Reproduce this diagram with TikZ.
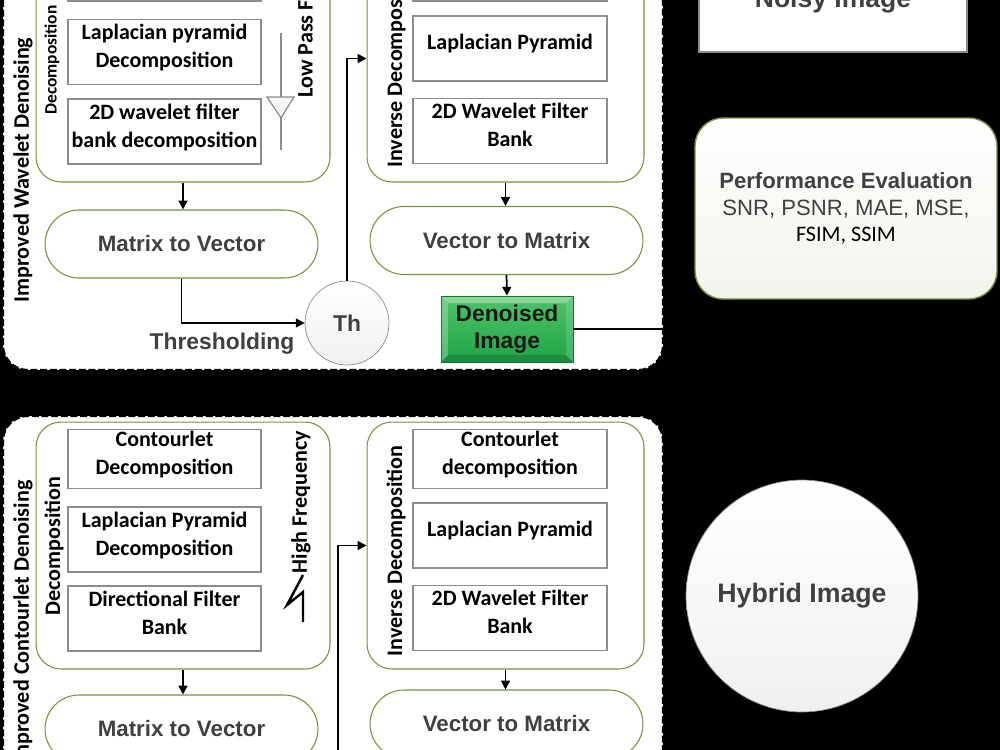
\documentclass[tikz,border=0pt]{standalone}
\usepackage{fontspec}
\setmainfont{Carlito}
\newfontfamily\arialfont{Liberation Sans}
\usetikzlibrary{positioning,arrows.meta}
\definecolor{vertcadre}{RGB}{119,147,60}
\definecolor{grisbord}{RGB}{140,140,140}
\definecolor{gristexte}{RGB}{64,64,64}
\definecolor{vertimage}{RGB}{30,165,70}
\definecolor{vertclair}{RGB}{80,195,105}
\definecolor{vertfonce}{RGB}{20,120,50}
\tikzstyle{panneau}=[draw=black, fill=white, dash pattern=on 4pt off 1.5pt, line width=1.1pt, rounded corners=0.5cm]
\tikzstyle{groupe}=[draw=vertcadre, fill=white, line width=0.6pt, rounded corners=0.5cm]
\tikzstyle{boite}=[draw=grisbord, fill=white, line width=0.8pt, minimum width=3.86cm, minimum height=1.3cm, align=center, inner sep=1pt, text depth=7pt, font=\bfseries\fontsize{12.5}{15.9}\selectfont]
\tikzstyle{capsule}=[draw=vertcadre, fill=white, line width=0.6pt, rounded corners=0.68cm, minimum width=5.46cm, minimum height=1.36cm, text=gristexte, font=\arialfont\bfseries\fontsize{12.7}{15}\selectfont]
\tikzstyle{titre}=[rotate=90, inner sep=0pt, font=\bfseries\fontsize{12.6}{15}\selectfont]
\tikzstyle{rond}=[circle, draw=grisbord, top color=white, bottom color=gray!12, text=gristexte, font=\arialfont\bfseries\fontsize{13}{15}\selectfont]
\tikzstyle{fleche}=[-{Triangle[length=5pt,width=5pt]}, line width=1pt]
\tikzstyle{biseau}=[draw=vertfonce, top color=vertclair, bottom color=vertimage, minimum width=2.64cm, minimum height=1.32cm, align=center, text=black!90, font=\arialfont\bfseries\fontsize{13}{15.3}\selectfont,
  path picture={
    \fill[white, opacity=.35] (path picture bounding box.north west) -- (path picture bounding box.north east) -- ([xshift=-4pt,yshift=-4pt]path picture bounding box.north east) -- ([xshift=4pt,yshift=-4pt]path picture bounding box.north west) -- cycle;
    \fill[white, opacity=.25] (path picture bounding box.north west) -- (path picture bounding box.south west) -- ([xshift=4pt,yshift=4pt]path picture bounding box.south west) -- ([xshift=4pt,yshift=-4pt]path picture bounding box.north west) -- cycle;
    \fill[black, opacity=.15] (path picture bounding box.south west) -- (path picture bounding box.south east) -- ([xshift=-4pt,yshift=4pt]path picture bounding box.south east) -- ([xshift=4pt,yshift=4pt]path picture bounding box.south west) -- cycle;
    \fill[white, opacity=.15] (path picture bounding box.north east) -- (path picture bounding box.south east) -- ([xshift=-4pt,yshift=4pt]path picture bounding box.south east) -- ([xshift=-4pt,yshift=-4pt]path picture bounding box.north east) -- cycle;
  }]

\begin{document}
\begin{tikzpicture}[x=0.02cm,y=-0.02cm]
\useasboundingbox (0,0) rectangle (1000,750);
\fill[black] (0,0) rectangle (1000,750);
\clip (0,0) rectangle (1000,750);

% the two dashed panels
\node[panneau, minimum width=13.2cm, minimum height=9.8cm] (panA) at (333,125) {};
\node[panneau, minimum width=13.2cm, minimum height=9.68cm] (panB) at (333,658) {};

\node[groupe, minimum width=5.88cm, minimum height=4.94cm] (decA) at (183,58.5) {};
\node[groupe, minimum width=5.54cm, minimum height=4.94cm] (invA) at (505.5,58.5) {};
\node[groupe, minimum width=5.88cm, minimum height=4.94cm] (decB) at (183,545.5) {};
\node[groupe, minimum width=5.54cm, minimum height=4.94cm] (invB) at (505.5,545.5) {};

% wavelet part
\node[boite, minimum height=1.16cm] (decA1) at (164.5,-28) {};
\node[boite] (decA2) at (164.5,52) {Laplacian pyramid\\Decomposition};
\node[boite] (decA3) at (164.5,131.5) {2D wavelet filter\\bank decomposition};
\node[boite, minimum width=3.88cm, minimum height=1.16cm] (invA1) at (510,-28) {};
\node[boite, minimum width=3.88cm, text depth=8pt] (invA2) at (510,48.5) {Laplacian Pyramid};
\node[boite, minimum width=3.88cm] (invA3) at (510,131) {2D Wavelet Filter\\Bank};

\node[titre] (tA) at (23,170) {Improved Wavelet Denoising};
\node[titre, font=\bfseries\fontsize{9.9}{12}\selectfont] (sA) at (52,60) {Decomposition};
\node[titre, anchor=west] (iA) at (396,168) {Inverse Decomposition};
\node[titre, anchor=west] (lp) at (305,98) {Low Pass Filter};

\draw[grisbord, line width=0.7pt] (281,33) -- (281,150);
\draw[grisbord, fill=gray!8, line width=0.7pt] (267,97) -- (294,97) -- (281,118) -- cycle;

\node[capsule] (mvA) at (181.5,244) {Matrix to Vector};
\node[capsule] (vmA) at (506.5,240.5) {Vector to Matrix};
\node[rond, minimum size=1.68cm] (th) at (347,323) {Th};
\node[biseau] (den) at (507,329) {Denoised\\Image};
\node[text=gristexte, font=\arialfont\bfseries\fontsize{13}{15}\selectfont] (seuil) at (222,344) {Thresholding};

\draw[fleche] (decA.south) -- (decA.south |- mvA.north);
\draw[fleche] (mvA.south) |- (th.west);
\draw[fleche] (th.north) |- (invA.west);
\draw[fleche] (invA.south) -- (invA.south |- vmA.north);
\draw[fleche] (vmA.south) -- (den.north);
\coordinate (sortie) at (690,329);
\draw[line width=1pt] (den.east) -- (sortie);

% contourlet part
\coordinate (arrivee) at (182,380);
\draw[fleche] (arrivee) -- (arrivee |- panB.north);

\node[boite, minimum height=1.16cm] (decB1) at (164.5,459) {Contourlet\\Decomposition};
\node[boite] (decB2) at (164.5,539.5) {Laplacian Pyramid\\Decomposition};
\node[boite] (decB3) at (164.5,618.5) {Directional Filter\\Bank};
\node[boite, minimum width=3.88cm, minimum height=1.16cm] (invB1) at (510,459) {Contourlet\\decomposition};
\node[boite, minimum width=3.88cm, text depth=8pt] (invB2) at (510,535.5) {Laplacian Pyramid};
\node[boite, minimum width=3.88cm] (invB3) at (510,618) {2D Wavelet Filter\\Bank};

\node[titre] (tB) at (23,624.5) {Improved Contourlet Denoising};
\node[titre] (sB) at (54,546) {Decomposition};
\node[titre] (iB) at (396,551) {Inverse Decomposition};
\node[titre] (hf) at (301,502) {High Frequency};
\draw[line width=1.4pt] (303,575) -- (287,605) -- (303,592) -- (303,622);

\node[capsule] (mvB) at (181.5,729) {Matrix to Vector};
\node[capsule] (vmB) at (506.5,724) {Vector to Matrix};

\draw[fleche] (decB.south) -- (decB.south |- mvB.north);
\coordinate (montee) at (338,800);
\draw[fleche] (montee) |- (invB.west);
\draw[fleche] (invB.south) -- (invB.south |- vmB.north);

% right column
\node[draw=grisbord, fill=white, line width=0.7pt, minimum width=5.36cm, minimum height=2.03cm, text=gristexte, font=\arialfont\bfseries\fontsize{15.1}{18}\selectfont] (bruit) at (833,1.2) {Noisy Image};
\node[draw=vertcadre, line width=0.8pt, rounded corners=0.56cm, top color=white, bottom color=vertcadre!10, minimum width=6.04cm, minimum height=3.62cm, align=center, text=gristexte, font=\fontsize{12.6}{15}\selectfont] (perf) at (846,208.5)
  {{\arialfont\bfseries Performance Evaluation}\\{\arialfont SNR, PSNR, MAE, MSE,}\\{\color{black}FSIM, SSIM}};
\node[rond, minimum size=4.64cm, font=\arialfont\bfseries\fontsize{15.2}{18}\selectfont] (hyb) at (802,596) {Hybrid Image};

\end{tikzpicture}
\end{document}
